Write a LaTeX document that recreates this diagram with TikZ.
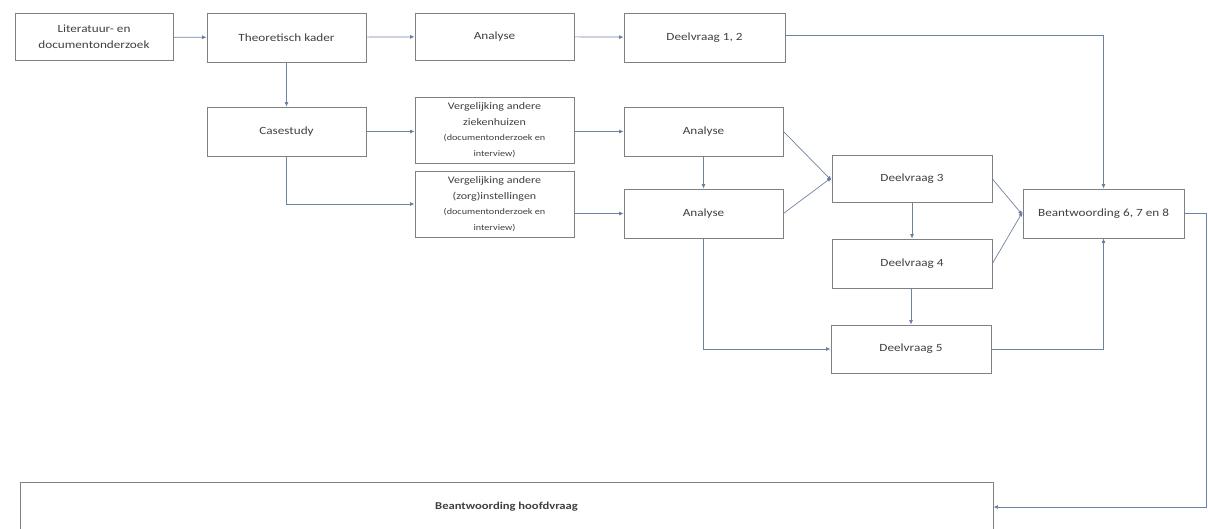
\documentclass[tikz,border=0pt]{standalone}
\usepackage{fontspec}
\setmainfont[FakeStretch=1.2]{Carlito}
\usepackage{xcolor}
\usepackage{tikz}
\usetikzlibrary{positioning,calc,arrows.meta}

\definecolor{boxgray}{RGB}{128,128,128}
\definecolor{linkblue}{RGB}{112,130,162}
\definecolor{tipblue}{RGB}{72,98,150}

\begin{document}
\begin{tikzpicture}[x=1pt,y=-1pt,
    stap/.style={draw=boxgray, line width=0.9pt, fill=white, inner sep=1pt, align=center,
        font=\fontsize{11}{16}\selectfont, text=black!75},
    klein/.style={font=\fontsize{10}{15.5}\selectfont},
    pijl/.style={draw=linkblue, line width=0.7pt, -{Latex[length=4.5pt,width=4pt,fill=tipblue]}}]
    \useasboundingbox (0,0) rectangle (1208,529);

    % Bovenste rij
    \node[stap, minimum width=158pt, minimum height=47pt] (lit) at (94,37) {Literatuur- en\\documentonderzoek};
    \node[stap, minimum width=159pt, minimum height=49pt] (kader) at (286.5,37.5) {Theoretisch kader};
    \node[stap, minimum width=159pt, minimum height=47pt] (ana1) at (494.5,36.5) {Analyse};
    \node[stap, minimum width=161pt, minimum height=49pt] (dv12) at (704.5,37.5) {Deelvraag 1, 2};

    % Casestudy en vergelijkingen
    \node[stap, minimum width=159pt, minimum height=49pt] (case) at (286.5,131.5) {Casestudy};
    \node[stap, klein, minimum width=159pt, minimum height=66pt] (verg1) at (494.5,130)
        {Vergelijking andere\\ziekenhuizen\\{\fontsize{8.5}{15.5}\selectfont(documentonderzoek en}\\{\fontsize{8.5}{15.5}\selectfont interview)}};
    \node[stap, klein, minimum width=159pt, minimum height=66pt] (verg2) at (494.5,204)
        {Vergelijking andere\\(zorg)instellingen\\{\fontsize{8.5}{15.5}\selectfont(documentonderzoek en}\\{\fontsize{8.5}{15.5}\selectfont interview)}};
    \node[stap, minimum width=159pt, minimum height=49pt] (ana2) at (703.5,131.5) {Analyse};
    \node[stap, minimum width=159pt, minimum height=49pt] (ana3) at (703.5,213.5) {Analyse};

    % Deelvragen
    \node[stap, minimum width=160pt, minimum height=47pt] (dv3) at (912,179) {Deelvraag 3};
    \node[stap, minimum width=160pt, minimum height=49pt] (dv4) at (912,263.5) {Deelvraag 4};
    \node[stap, minimum width=160pt, minimum height=48pt] (dv5) at (911,349) {Deelvraag 5};
    \node[stap, minimum width=161pt, minimum height=49pt] (bw) at (1103.5,213.5) {Beantwoording 6, 7 en 8};

    % Hoofdvraag
    \node[stap, minimum width=973pt, minimum height=50pt, font=\fontsize{10.5}{12}\bfseries] (hoofd) at (506.5,507) {Beantwoording hoofdvraag};

    % Pijlen
    \draw[pijl] (lit) -- (kader);
    \draw[pijl] (kader) -- (ana1);
    \draw[pijl] (ana1) -- (dv12);
    \draw[pijl] ([yshift=2.5pt]dv12.east) -| (bw.north);
    \draw[pijl] (kader) -- (case);
    \draw[pijl] (case.east) -- (case.east -| verg1.west);
    \draw[pijl] (case.south) |- (verg2.west);
    \draw[pijl] (verg1.east |- ana2.west) -- (ana2.west);
    \draw[pijl] (verg2.east |- ana3.west) -- (ana3.west);
    \draw[pijl] (ana2) -- (ana3);
    \draw[pijl] (ana2.east) -- ([yshift=-1.5pt]dv3.west);
    \draw[pijl] (ana3.east) -- ([yshift=1.5pt]dv3.west);
    \draw[pijl] (dv3) -- (dv4);
    \draw[pijl] (dv4.south -| dv5.north) -- (dv5.north);
    \draw[pijl] (ana3.south) |- (dv5.west);
    \draw[pijl] (dv3.east) -- ([yshift=-1.5pt]bw.west);
    \draw[pijl] (dv4.east) -- ([yshift=1.5pt]bw.west);
    \draw[pijl] (dv5.east) -| (bw.south);
    \coordinate (hoek) at (1206.5,213.5);
    \draw[pijl] (bw.east) -- (hoek) |- (hoofd.east);
\end{tikzpicture}
\end{document}
